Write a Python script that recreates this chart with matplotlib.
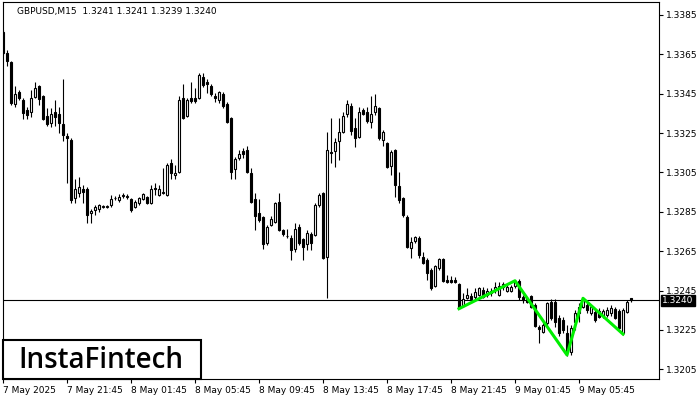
import matplotlib
matplotlib.use("Agg")
import matplotlib.pyplot as plt
import numpy as np

# GBPUSD M15 candles
opens = [1.33763, 1.33657, 1.33611, 1.33398, 1.33459, 1.33418, 1.33367, 1.33357, 1.33433, 1.33489,
         1.33438, 1.33337, 1.33301, 1.33357, 1.33347, 1.33296, 1.33235, 1.33215, 1.32920, 1.32946,
         1.32966, 1.32966, 1.32844, 1.32859, 1.32864, 1.32874, 1.32874, 1.32885, 1.32920, 1.32910,
         1.32930, 1.32925, 1.32915, 1.32874, 1.32895, 1.32915, 1.32925, 1.32895, 1.32971, 1.32935,
         1.32946, 1.32935, 1.33098, 1.33037, 1.33052, 1.33428, 1.33337, 1.33428, 1.33428, 1.33428,
         1.33535, 1.33509, 1.33489, 1.33438, 1.33418, 1.33449, 1.33398, 1.33327, 1.33068, 1.33123,
         1.33159, 1.33164, 1.33047, 1.32915, 1.32844, 1.32824, 1.32692, 1.32783, 1.32798, 1.32900,
         1.32758, 1.32727, 1.32717, 1.32661, 1.32773, 1.32712, 1.32687, 1.32737, 1.32732, 1.32885,
         1.32946, 1.32620, 1.33154, 1.33159, 1.33210, 1.33255, 1.33347, 1.33388, 1.33276, 1.33230,
         1.33367, 1.33357, 1.33306, 1.33357, 1.33377, 1.33215, 1.33200, 1.33083, 1.33164, 1.32981,
         1.32920, 1.32824, 1.32666, 1.32702, 1.32717, 1.32620, 1.32605, 1.32554, 1.32473, 1.32565,
         1.32610, 1.32504, 1.32504, 1.32504, 1.32483, 1.32372, 1.32412, 1.32422, 1.32417, 1.32427,
         1.32453, 1.32427, 1.32438, 1.32458, 1.32427, 1.32468, 1.32448, 1.32448, 1.32473, 1.32499,
         1.32417, 1.32407, 1.32422, 1.32377, 1.32265, 1.32239, 1.32285, 1.32392, 1.32392, 1.32311,
         1.32300, 1.32234, 1.32138, 1.32290, 1.32336, 1.32366, 1.32377, 1.32336, 1.32341, 1.32346,
         1.32321, 1.32326, 1.32336, 1.32356, 1.32346, 1.32234, 1.32341, 1.32410]
highs = [1.33774, 1.33672, 1.33616, 1.33489, 1.33469, 1.33428, 1.33382, 1.33469, 1.33509, 1.33494,
         1.33443, 1.33377, 1.33377, 1.33418, 1.33382, 1.33525, 1.33250, 1.33225, 1.33017, 1.33027,
         1.32986, 1.32976, 1.32864, 1.32885, 1.32890, 1.32885, 1.32885, 1.32935, 1.32930, 1.32941,
         1.32946, 1.32941, 1.32920, 1.32910, 1.32925, 1.32946, 1.32930, 1.32986, 1.32996, 1.32986,
         1.33073, 1.33098, 1.33118, 1.33088, 1.33438, 1.33499, 1.33428, 1.33509, 1.33479, 1.33555,
         1.33555, 1.33525, 1.33499, 1.33454, 1.33464, 1.33459, 1.33408, 1.33332, 1.33128, 1.33164,
         1.33174, 1.33184, 1.33073, 1.32946, 1.32915, 1.32829, 1.32783, 1.32829, 1.32900, 1.32946,
         1.32763, 1.32763, 1.32732, 1.32793, 1.32788, 1.32717, 1.32758, 1.32747, 1.32895, 1.32946,
         1.32951, 1.33255, 1.33327, 1.33225, 1.33327, 1.33357, 1.33418, 1.33403, 1.33327, 1.33382,
         1.33377, 1.33382, 1.33438, 1.33449, 1.33382, 1.33266, 1.33205, 1.33164, 1.33169, 1.33052,
         1.32925, 1.32834, 1.32722, 1.32727, 1.32727, 1.32646, 1.32615, 1.32565, 1.32580, 1.32615,
         1.32615, 1.32529, 1.32524, 1.32519, 1.32488, 1.32438, 1.32463, 1.32438, 1.32463, 1.32468,
         1.32468, 1.32463, 1.32463, 1.32493, 1.32493, 1.32493, 1.32488, 1.32478, 1.32504, 1.32509,
         1.32427, 1.32417, 1.32427, 1.32387, 1.32275, 1.32285, 1.32392, 1.32407, 1.32407, 1.32326,
         1.32316, 1.32275, 1.32275, 1.32351, 1.32387, 1.32412, 1.32387, 1.32377, 1.32361, 1.32361,
         1.32356, 1.32366, 1.32377, 1.32366, 1.32356, 1.32361, 1.32402, 1.32410]
lows = [1.33647, 1.33591, 1.33393, 1.33382, 1.33418, 1.33322, 1.33322, 1.33332, 1.33428, 1.33393,
        1.33316, 1.33286, 1.33281, 1.33286, 1.33250, 1.33210, 1.32996, 1.32895, 1.32895, 1.32925,
        1.32895, 1.32793, 1.32793, 1.32834, 1.32849, 1.32869, 1.32869, 1.32874, 1.32910, 1.32900,
        1.32920, 1.32915, 1.32849, 1.32869, 1.32885, 1.32910, 1.32890, 1.32890, 1.32935, 1.32930,
        1.32941, 1.32930, 1.33017, 1.33017, 1.33047, 1.33322, 1.33332, 1.33403, 1.33403, 1.33423,
        1.33484, 1.33454, 1.33438, 1.33408, 1.33403, 1.33377, 1.33301, 1.33017, 1.33017, 1.33113,
        1.33123, 1.33047, 1.32895, 1.32758, 1.32798, 1.32661, 1.32681, 1.32778, 1.32793, 1.32753,
        1.32727, 1.32717, 1.32605, 1.32646, 1.32681, 1.32605, 1.32656, 1.32656, 1.32727, 1.32874,
        1.32610, 1.32412, 1.33098, 1.33078, 1.33113, 1.33250, 1.33332, 1.33240, 1.33179, 1.33225,
        1.33342, 1.33301, 1.33276, 1.33342, 1.33215, 1.33184, 1.33073, 1.33037, 1.32925, 1.32895,
        1.32824, 1.32666, 1.32615, 1.32692, 1.32615, 1.32585, 1.32504, 1.32453, 1.32468, 1.32554,
        1.32493, 1.32488, 1.32488, 1.32488, 1.32356, 1.32366, 1.32407, 1.32387, 1.32402, 1.32422,
        1.32412, 1.32417, 1.32422, 1.32438, 1.32422, 1.32453, 1.32443, 1.32443, 1.32463, 1.32402,
        1.32387, 1.32387, 1.32361, 1.32265, 1.32184, 1.32234, 1.32275, 1.32300, 1.32265, 1.32219,
        1.32234, 1.32118, 1.32123, 1.32250, 1.32290, 1.32361, 1.32336, 1.32326, 1.32290, 1.32311,
        1.32311, 1.32316, 1.32321, 1.32306, 1.32255, 1.32224, 1.32336, 1.32390]
closes = [1.33657, 1.33616, 1.33403, 1.33449, 1.33428, 1.33352, 1.33342, 1.33428, 1.33479, 1.33423,
          1.33322, 1.33296, 1.33347, 1.33332, 1.33301, 1.33240, 1.33225, 1.32910, 1.32966, 1.32976,
          1.32951, 1.32834, 1.32854, 1.32874, 1.32885, 1.32880, 1.32880, 1.32915, 1.32922, 1.32925,
          1.32933, 1.32928, 1.32859, 1.32900, 1.32920, 1.32941, 1.32895, 1.32966, 1.32966, 1.32966,
          1.32951, 1.33088, 1.33047, 1.33047, 1.33418, 1.33327, 1.33418, 1.33413, 1.33413, 1.33545,
          1.33494, 1.33499, 1.33449, 1.33428, 1.33459, 1.33388, 1.33306, 1.33052, 1.33118, 1.33144,
          1.33144, 1.33052, 1.32900, 1.32829, 1.32808, 1.32687, 1.32773, 1.32814, 1.32895, 1.32758,
          1.32737, 1.32725, 1.32656, 1.32763, 1.32692, 1.32671, 1.32742, 1.32692, 1.32885, 1.32935,
          1.32615, 1.33164, 1.33149, 1.33205, 1.33255, 1.33337, 1.33398, 1.33261, 1.33225, 1.33357,
          1.33347, 1.33311, 1.33347, 1.33388, 1.33225, 1.33255, 1.33078, 1.33154, 1.32986, 1.32910,
          1.32834, 1.32671, 1.32697, 1.32722, 1.32631, 1.32590, 1.32539, 1.32463, 1.32575, 1.32610,
          1.32499, 1.32493, 1.32493, 1.32493, 1.32361, 1.32407, 1.32427, 1.32407, 1.32443, 1.32463,
          1.32417, 1.32448, 1.32448, 1.32468, 1.32473, 1.32483, 1.32468, 1.32468, 1.32493, 1.32417,
          1.32402, 1.32392, 1.32366, 1.32270, 1.32255, 1.32275, 1.32387, 1.32311, 1.32290, 1.32234,
          1.32250, 1.32138, 1.32260, 1.32336, 1.32366, 1.32402, 1.32351, 1.32366, 1.32300, 1.32316,
          1.32346, 1.32351, 1.32361, 1.32311, 1.32260, 1.32351, 1.32392, 1.32400]

# pattern (green) vertices: bar index, price
pattern_idx = [114, 128, 141, 145, 155]
pattern_px = [1.32358, 1.32500, 1.32123, 1.32411, 1.32229]

tick_idx = [0, 16, 32, 48, 64, 80, 96, 112, 128, 144]
tick_labels = ['7 May 2025', '7 May 21:45', '8 May 01:45', '8 May 05:45', '8 May 09:45',
               '8 May 13:45', '8 May 17:45', '8 May 21:45', '9 May 01:45', '9 May 05:45']
price_ticks = [1.3205, 1.3225, 1.3245, 1.3265, 1.3285, 1.3305, 1.3325, 1.3345, 1.3365, 1.3385]
last_price = 1.3240

o = np.array(opens)
h = np.array(highs)
l = np.array(lows)
c = np.array(closes)
x = np.arange(len(o))

plt.rcParams['font.family'] = 'DejaVu Sans'
fig = plt.figure(figsize=(7, 4), dpi=100)
ax = fig.add_axes([2.7 / 700, 21 / 400, 656.3 / 700, 377.3 / 400])

up = c >= o
ax.vlines(x, l, h, color='black', linewidth=0.8, zorder=2)
body = np.maximum(np.abs(c - o), 0.00002)
ax.bar(x[up], body[up], bottom=np.minimum(o, c)[up], width=0.5,
       facecolor='white', edgecolor='black', linewidth=0.8, zorder=3)
ax.bar(x[~up], body[~up], bottom=np.minimum(o, c)[~up], width=0.5,
       facecolor='black', edgecolor='black', linewidth=0.8, zorder=3)

ax.axhline(last_price, color='black', linewidth=0.8, zorder=1)
ax.plot(pattern_idx, pattern_px, color='#00ee00', linewidth=2.2, zorder=4)

ax.set_xlim(-0.075, 164.0)
ax.set_ylim(1.32001, 1.33917)

ax.yaxis.tick_right()
ax.set_yticks(price_ticks)
ax.set_yticklabels(['%.4f' % p for p in price_ticks])
ax.set_xticks(tick_idx)
ax.set_xticklabels(tick_labels, ha='left')
ax.tick_params(axis='both', labelsize=6.5, length=3, width=0.8, pad=2, colors='black')
for s in ax.spines.values():
    s.set_linewidth(0.8)

ax.annotate('%.4f' % last_price, xy=(1.005, last_price), xycoords=('axes fraction', 'data'),
            va='center', ha='left', fontsize=6.5, color='white',
            bbox=dict(boxstyle='square,pad=0.15', facecolor='black', edgecolor='black'))

ax.text(0.022, 0.985, 'GBPUSD,M15  1.3241 1.3241 1.3239 1.3240', transform=ax.transAxes,
        fontsize=6.5, va='top', ha='left')

# logo box
fig.patches.append(plt.Rectangle((3 / 700, 21 / 400), 198 / 700, 39 / 400, transform=fig.transFigure,
                                 facecolor='white', edgecolor='black', linewidth=1.5, zorder=10))
fig.text(101 / 700, 40 / 400, 'InstaFintech', fontsize=20, ha='center', va='center',
         family='Open Sans', fontweight='semibold', zorder=11)

fig.savefig('out.png', dpi=100)
